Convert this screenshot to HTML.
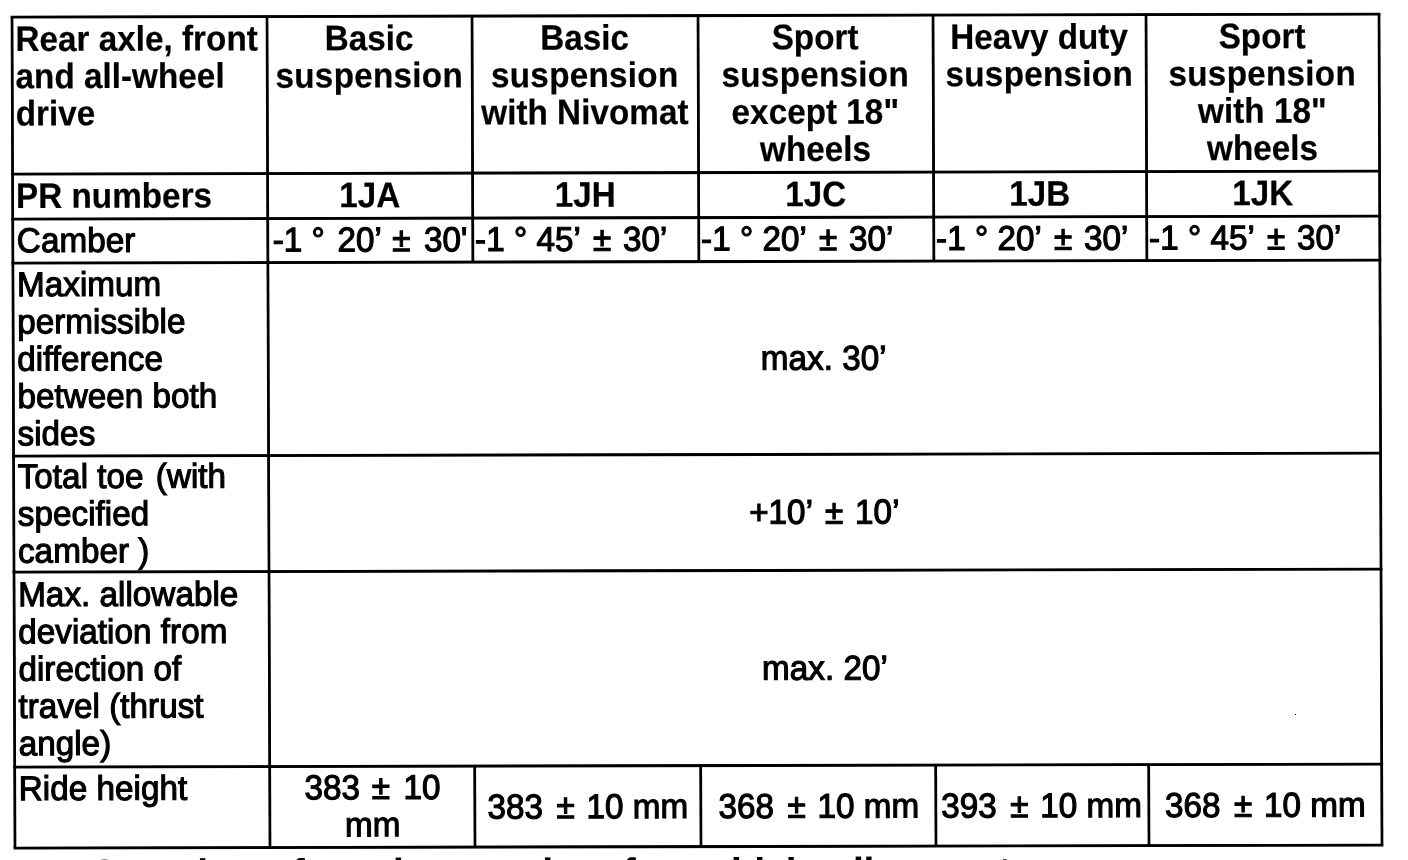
<!DOCTYPE html>
<html lang="en">
<head>
<meta charset="utf-8">
<title>Rear axle alignment specifications</title>
<style>
  html, body { margin: 0; padding: 0; background: #fff; }
  body {
    width: 1408px; height: 860px; overflow: hidden; position: relative;
    font-family: "Liberation Sans", Arial, Helvetica, sans-serif;
    font-size: 33.3px; line-height: 36px; color: #000;
    -webkit-text-stroke: 1.1px #000;          /* scanned ink spread on the regular weight */
  }

  /* the scanned page is very slightly skewed */
  .sheet {
    position: absolute; left: 0; top: 0; width: 1408px; height: 900px;
    transform-origin: 704px 430px;
    transform: matrix(1, -0.0022, 0.0036, 1, 0.5, -0.4);
  }

  /* ---------- table frame ---------- */
  table.spec {
    position: absolute; left: 12px; top: 15px; width: 1369px;
    border-collapse: collapse; table-layout: fixed;
  }
  table.spec td, table.spec th {
    border: 2px solid #000;
    padding: 0 0 0 3px;
    box-sizing: border-box;
    vertical-align: top; text-align: left; font-weight: normal;
    white-space: nowrap; overflow: hidden;
  }
  table.spec th {
    font-weight: bold; line-height: 35px;
    -webkit-text-stroke: 0.2px #000;
  }
  svg.rules { position: absolute; left: 0; top: 0; pointer-events: none; }

  /* glyphs in the scan are a little taller than wide */
  .t { transform: scaleY(1.035); transform-origin: 0 0; }
  th > .t { transform: scaleY(1.0646); }
  .m > .t { transform-origin: 50% 50%; }

  /* ---------- alignment helpers ---------- */
  table.spec .c { text-align: center; padding-left: 0; padding-right: 3px; }
  table.spec th.c { padding-right: 1px; }
  table.spec td[colspan] { padding-right: 1px; }
  table.spec th:first-child { padding-left: 2.3px; }
  table.spec .m { vertical-align: middle; }

  /* ---------- rows ---------- */
  table.spec tr.r1 > * { height: 157px; padding-top: 2px; }
  table.spec tr.r2 > * { height: 45px;  padding-top: 2px; }
  table.spec tr.r3 > * { height: 44px;  padding-top: 2px; }
  table.spec tr.r4 > * { height: 193px; padding-top: 2px; }
  table.spec tr.r5 > * { height: 116px; padding-top: 1px; }
  table.spec tr.r6 > * { height: 195px; padding-top: 3px; }
  table.spec tr.r7 > * { height: 81px;  padding-top: 2px; }
  table.spec tr > .m { padding-top: 0; }
  table.spec tr.r3 > td + td { padding-left: 1.2px; }
  table.spec tr.r3 > td.first { padding-left: 3.9px; }

  /* ---------- small tracking tweaks ---------- */
  .sp { letter-spacing: 0.25px; }
  .pm { margin: 0 2.5px 0 4px; }
  .pm.a { margin: 0 4.2px 0 2.3px; }

  /* ---------- next heading (only its very top is on this page) ---------- */
  h2.next {
    position: absolute; left: 87.9px; top: 851px; margin: 0;
    font-size: 37.9px; line-height: 42px; font-weight: bold; white-space: nowrap;
    -webkit-text-stroke: 0.2px #000;
  }
  .speck { position: absolute; left: 1295px; top: 714px; width: 1px; height: 1px; background: #000; }
</style>
</head>
<body>
<div class="sheet">
<table class="spec">
  <colgroup>
    <col style="width:255px"><col style="width:205px"><col style="width:226px">
    <col style="width:235px"><col style="width:213px"><col style="width:233px">
  </colgroup>
  <tbody>
    <tr class="r1">
      <th><div class="t">Rear axle, front<br>and all-wheel<br>drive</div></th>
      <th class="c"><div class="t">Basic<br><span class="sp">suspension</span></div></th>
      <th class="c"><div class="t">Basic<br><span class="sp">suspension</span><br>with Nivomat</div></th>
      <th class="c"><div class="t">Sport<br><span class="sp">suspension</span><br>except 18"<br>wheels</div></th>
      <th class="c"><div class="t">Heavy duty<br><span class="sp">suspension</span></div></th>
      <th class="c"><div class="t">Sport<br><span class="sp">suspension</span><br>with 18"<br>wheels</div></th>
    </tr>
    <tr class="r2">
      <th><div class="t">PR numbers</div></th>
      <th class="c"><div class="t">1JA</div></th>
      <th class="c"><div class="t">1JH</div></th>
      <th class="c"><div class="t">1JC</div></th>
      <th class="c"><div class="t">1JB</div></th>
      <th class="c"><div class="t">1JK</div></th>
    </tr>
    <tr class="r3">
      <td><div class="t">Camber</div></td>
      <td class="first"><div class="t">-1 ° <span style="margin-left:3.4px">20’</span> <span class="pm a">±</span> 30'</div></td>
      <td><div class="t">-1 ° 45’ <span class="pm">±</span> 30’</div></td>
      <td><div class="t">-1 ° 20’ <span class="pm">±</span> 30’</div></td>
      <td><div class="t">-1 ° 20’ <span class="pm">±</span> 30’</div></td>
      <td><div class="t">-1 ° 45’ <span class="pm">±</span> 30’</div></td>
    </tr>
    <tr class="r4">
      <td><div class="t">Maximum<br>permissible<br>difference<br>between both<br>sides</div></td>
      <td class="c m" colspan="5"><div class="t">max. 30’</div></td>
    </tr>
    <tr class="r5">
      <td><div class="t">Total toe <span style="margin-left:3px">(with</span><br>specified<br>camber )</div></td>
      <td class="c m" colspan="5"><div class="t">+10’ <span class="pm">±</span> 10’</div></td>
    </tr>
    <tr class="r6">
      <td><div class="t">Max. allowable<br>deviation from<br>direction of<br>travel (thrust<br>angle)</div></td>
      <td class="c m" colspan="5"><div class="t">max. 20’</div></td>
    </tr>
    <tr class="r7">
      <td><div class="t">Ride height</div></td>
      <td class="c m" style="padding-left:0.4px;padding-right:0;padding-bottom:1px"><div class="t">383 <span class="pm a">±</span> 10<br>mm</div></td>
      <td class="c m" style="padding-right:0"><div class="t">383 <span class="pm">±</span> 10 mm</div></td>
      <td class="c m" style="padding-left:1px;padding-right:0"><div class="t">368 <span class="pm">±</span> 10 mm</div></td>
      <td class="c m" style="padding-right:1.5px"><div class="t">393 <span class="pm">±</span> 10 mm</div></td>
      <td class="c m" style="padding-right:0"><div class="t">368 <span class="pm">±</span> 10 mm</div></td>
    </tr>
  </tbody>
</table>

<!-- the scanned rules are a touch heavier than a 2px border -->
<svg class="rules" width="1408" height="900" viewBox="0 0 1408 900" aria-hidden="true">
  <g stroke="#000" stroke-width="2.9" fill="none">
    <line x1="11.6" y1="16" x2="1381.4" y2="16"/>
    <line x1="11.6" y1="173" x2="1381.4" y2="173"/>
    <line x1="11.6" y1="218" x2="1381.4" y2="218"/>
    <line x1="11.6" y1="262" x2="1381.4" y2="262"/>
    <line x1="11.6" y1="455" x2="1381.4" y2="455"/>
    <line x1="11.6" y1="571" x2="1381.4" y2="571"/>
    <line x1="11.6" y1="766" x2="1381.4" y2="766"/>
    <line x1="11.6" y1="847" x2="1381.4" y2="847"/>
  </g>
  <g stroke="#000" stroke-width="2.7" fill="none">
    <line x1="13" y1="16" x2="13" y2="847"/>
    <line x1="268" y1="16" x2="268" y2="847"/>
    <line x1="473" y1="16" x2="473" y2="262"/>
    <line x1="473" y1="766" x2="473" y2="847"/>
    <line x1="699" y1="16" x2="699" y2="262"/>
    <line x1="699" y1="766" x2="699" y2="847"/>
    <line x1="934" y1="16" x2="934" y2="262"/>
    <line x1="934" y1="766" x2="934" y2="847"/>
    <line x1="1147" y1="16" x2="1147" y2="262"/>
    <line x1="1147" y1="766" x2="1147" y2="847"/>
    <line x1="1380" y1="16" x2="1380" y2="847"/>
  </g>
</svg>

<h2 class="next">Overview of service <span style="margin-left:18.5px">work</span> <span style="margin-left:49.3px">for</span> <span style="margin-left:4.8px">vehicle</span> <span style="margin-left:4px">alignment</span></h2>
</div>
<div class="speck"></div>
</body>
</html>
